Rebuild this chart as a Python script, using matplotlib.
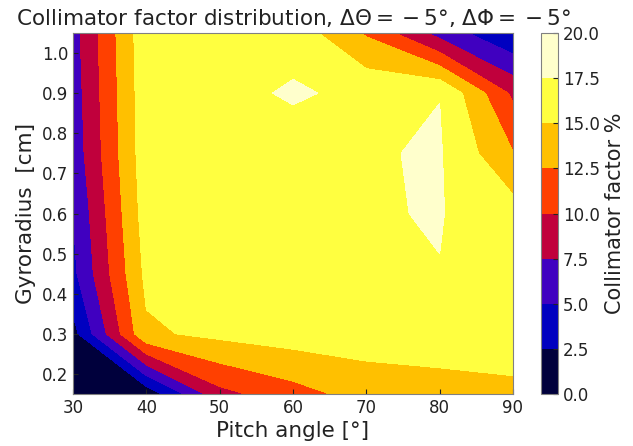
import matplotlib
matplotlib.use("Agg")
import matplotlib.pyplot as plt
import numpy as np
from matplotlib.colors import ListedColormap, BoundaryNorm

# grid of the simulation (pitch angle in degrees, gyroradius in cm)
pitch = [30, 40, 50, 60, 70, 80, 90]
gyroradius = [0.15, 0.30, 0.45, 0.60, 0.75, 0.90, 1.05]

# collimator factor [%], one row per gyroradius, one column per pitch
fcol = [
    [0.5, 0.8, 9.2, 11.5, 13.5, 14.0, 14.3],
    [1.6, 14.6, 15.6, 16.2, 16.24, 16.3, 16.6],
    [4.4, 15.6, 16.3, 16.5, 17.0, 17.45, 16.3],
    [5.0, 16.2, 16.5, 16.6, 17.36, 17.6, 16.1],
    [5.9, 16.5, 16.6, 16.25, 17.32, 17.7, 12.6],
    [6.2, 16.6, 16.73, 17.8, 16.92, 17.46, 9.5],
    [6.5, 16.75, 16.9, 16.5, 12.2, 6.5, 2.6],
]

levels = [0.0, 2.5, 5.0, 7.5, 10.0, 12.5, 15.0, 17.5, 20.0]
band_colors = ["#00003c", "#0000c0", "#4000c0", "#c0003c",
               "#ff4000", "#ffc000", "#ffff40", "#ffffcc"]

cmap = ListedColormap(band_colors)
norm = BoundaryNorm(levels, cmap.N)

fig = plt.figure(figsize=(6.33, 4.46), dpi=100)
ax = fig.add_axes([0.1153, 0.1166, 0.6951, 0.8094])
cax = fig.add_axes([0.8547, 0.1166, 0.0268, 0.8094])

cs = ax.contourf(pitch, gyroradius, np.array(fcol), levels=levels,
                 cmap=cmap, norm=norm)

ax.set_xlim(30, 90)
ax.set_ylim(0.15, 1.05)
ax.set_xticks([30, 40, 50, 60, 70, 80, 90])
ax.set_yticks([0.2, 0.3, 0.4, 0.5, 0.6, 0.7, 0.8, 0.9, 1.0])
ax.tick_params(direction="in", labelsize=12, colors="#222222")
for sp in ax.spines.values():
    sp.set_edgecolor("#808080")

ax.set_xlabel("Pitch angle [°]", fontsize=15.5, color="#222222", labelpad=3)
ax.set_ylabel("Gyroradius  [cm]", fontsize=15.5, color="#222222", labelpad=4)
ax.set_title(r"Collimator factor distribution, $\Delta\Theta = {} - 5°$, $\Delta\Phi = {} - 5°$",
             fontsize=15.5, color="#222222", pad=6)

cbar = fig.colorbar(cs, cax=cax)
cbar.set_ticks(levels)
cbar.ax.tick_params(direction="in", labelsize=12, colors="#222222")
cbar.set_label("Collimator factor %", fontsize=15, color="#222222")
cbar.outline.set_edgecolor("#808080")

fig.savefig("out.png", dpi=100)
